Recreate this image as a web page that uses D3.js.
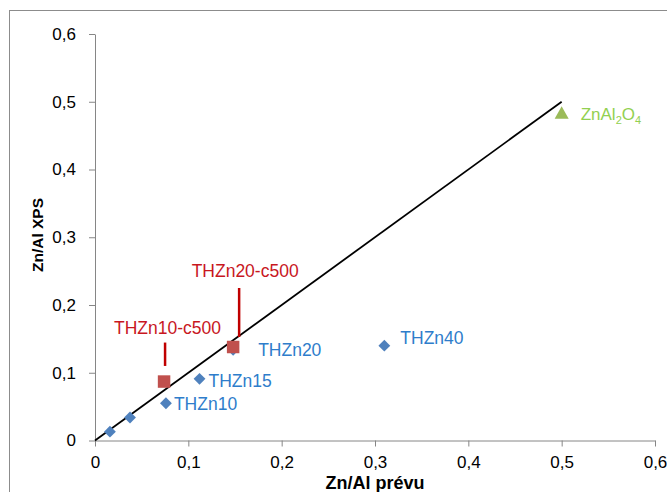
<!DOCTYPE html>
<html>
<head>
<meta charset="utf-8">
<script src="https://cdn.jsdelivr.net/npm/d3@7"></script>
<style>
  html, body { margin: 0; padding: 0; background: #fff; }
  svg { display: block; }
</style>
</head>
<body>
<svg id="chart" width="667" height="492"></svg>
<script>
// ---- data ----
const xTicks = [0, 0.1, 0.2, 0.3, 0.4, 0.5, 0.6];
const yTicks = [0, 0.1, 0.2, 0.3, 0.4, 0.5, 0.6];

const thznLabels = ["", "", "THZn10", "THZn15", "THZn20", "THZn40"];
const thznX = [0.016, 0.0375, 0.076, 0.112, 0.148, 0.310];
const thznY = [0.013, 0.034, 0.055, 0.091, 0.134, 0.140];

const calcLabels = ["THZn10-c500", "THZn20-c500"];
const calcX = [0.074, 0.148];
const calcY = [0.087, 0.138];

const spinelLabel = ["ZnAl", "2", "O", "4"];
const spinelX = [0.5];
const spinelY = [0.483];

const refLineX = [0, 0.5];
const refLineY = [0, 0.5];

const xTitle = "Zn/Al prévu";
const yTitle = "Zn/Al XPS";

// ---- layout ----
const svg = d3.select("#chart");
const x = d3.scaleLinear().domain([0, 0.6]).range([95, 655]);
const y = d3.scaleLinear().domain([0, 0.6]).range([440.5, 34]);
const fmt = d => d === 0 ? "0" : d3.format(".1f")(d).replace(".", ",");
const axisColor = "#868686";
const tickFont = "'Liberation Sans', Arial, sans-serif";

// outer frame
svg.append("rect").attr("x", 9.5).attr("y", 10.5).attr("width", 700).attr("height", 500)
  .attr("fill", "none").attr("stroke", "#8c8c8c").attr("stroke-width", 1);

// axes
const gx = svg.append("g").attr("transform", `translate(0,${y(0)})`)
  .call(d3.axisBottom(x).tickValues(xTicks).tickFormat(fmt).tickSize(6).tickSizeOuter(0).tickPadding(9));
const gy = svg.append("g").attr("transform", `translate(${x(0)},0)`)
  .call(d3.axisLeft(y).tickValues(yTicks).tickFormat(fmt).tickSize(6).tickSizeOuter(0).tickPadding(13));
[gx, gy].forEach(g => {
  g.select(".domain").attr("stroke", axisColor);
  g.selectAll(".tick line").attr("stroke", axisColor);
  g.selectAll(".tick text").attr("fill", "#000").style("font-family", tickFont).style("font-size", "17px");
});

// axis titles
svg.append("text").attr("x", (x(0) + x(0.6)) / 2).attr("y", 489)
  .attr("text-anchor", "middle").style("font-family", tickFont).style("font-weight", "bold")
  .style("font-size", "18px").text(xTitle);
svg.append("text").attr("transform", `translate(42.5,${235}) rotate(-90)`)
  .attr("text-anchor", "middle").style("font-family", tickFont).style("font-weight", "bold")
  .style("font-size", "15.5px").text(yTitle);

// reference line y = x
svg.append("path")
  .datum(refLineX.map((d, i) => [d, refLineY[i]]))
  .attr("d", d3.line().x(d => x(d[0])).y(d => y(d[1])))
  .attr("stroke", "#000").attr("stroke-width", 1.8).attr("fill", "none");

const labelFont = "'Liberation Sans', Arial, sans-serif";
const blueText = "#2E7DCB", blue = "#4F81BD";
const redText = "#C8171E", red = "#C0504D";
const greenText = "#92D050", green = "#9BBB59";

// THZn diamonds
const thzn = thznX.map((d, i) => ({x: d, y: thznY[i], label: thznLabels[i]}));
const thznOffsets = [[0, 0], [0, 0], [8, 6.7], [9, 8.5], [25, 6.5], [16, -1.6]];
svg.append("g").selectAll("path").data(thzn).join("path")
  .attr("d", d3.symbol().type(d3.symbolSquare).size(70))
  .attr("transform", d => `translate(${x(d.x)},${y(d.y)}) rotate(45)`)
  .attr("fill", blue);
svg.append("g").selectAll("text").data(thzn).join("text")
  .attr("x", (d, i) => x(d.x) + thznOffsets[i][0])
  .attr("y", (d, i) => y(d.y) + thznOffsets[i][1])
  .style("font-family", labelFont).style("font-size", "17.5px").attr("fill", blueText)
  .text(d => d.label);

// calcined squares
const calc = calcX.map((d, i) => ({x: d, y: calcY[i], label: calcLabels[i]}));
const calcLayout = [
  {dx: 3.4, dy: -47.3, lx: 1, l0: -39, l1: -15.6},
  {dx: 12, dy: -69.7, lx: 6, l0: -59, l1: -10}
];
svg.append("g").selectAll("line").data(calc).join("line")
  .attr("x1", (d, i) => x(d.x) + calcLayout[i].lx)
  .attr("x2", (d, i) => x(d.x) + calcLayout[i].lx)
  .attr("y1", (d, i) => y(d.y) + calcLayout[i].l0)
  .attr("y2", (d, i) => y(d.y) + calcLayout[i].l1)
  .attr("stroke", "#C00000").attr("stroke-width", 2.5);
svg.append("g").selectAll("path").data(calc).join("path")
  .attr("d", d3.symbol().type(d3.symbolSquare).size(156))
  .attr("transform", d => `translate(${x(d.x)},${y(d.y)})`)
  .attr("fill", red);
svg.append("g").selectAll("text").data(calc).join("text")
  .attr("x", (d, i) => x(d.x) + calcLayout[i].dx)
  .attr("y", (d, i) => y(d.y) + calcLayout[i].dy)
  .attr("text-anchor", "middle")
  .style("font-family", labelFont).style("font-size", "17.5px").attr("fill", redText)
  .text(d => d.label);

// spinel triangle
const spinel = spinelX.map((d, i) => ({x: d, y: spinelY[i]}));
svg.append("g").selectAll("path").data(spinel).join("path")
  .attr("d", "M0,-7 L7,5.5 L-7,5.5 Z")
  .attr("transform", d => `translate(${x(d.x)},${y(d.y)})`)
  .attr("fill", green);
const st = svg.append("g").selectAll("text").data(spinel).join("text")
  .attr("x", d => x(d.x) + 19).attr("y", d => y(d.y) + 6.7)
  .style("font-family", labelFont).style("font-size", "17px").attr("fill", greenText);
st.append("tspan").text(spinelLabel[0]);
st.append("tspan").attr("dy", 4).style("font-size", "11px").text(spinelLabel[1]);
st.append("tspan").attr("dy", -4).text(spinelLabel[2]);
st.append("tspan").attr("dy", 4).style("font-size", "11px").text(spinelLabel[3]);
</script>
</body>
</html>
